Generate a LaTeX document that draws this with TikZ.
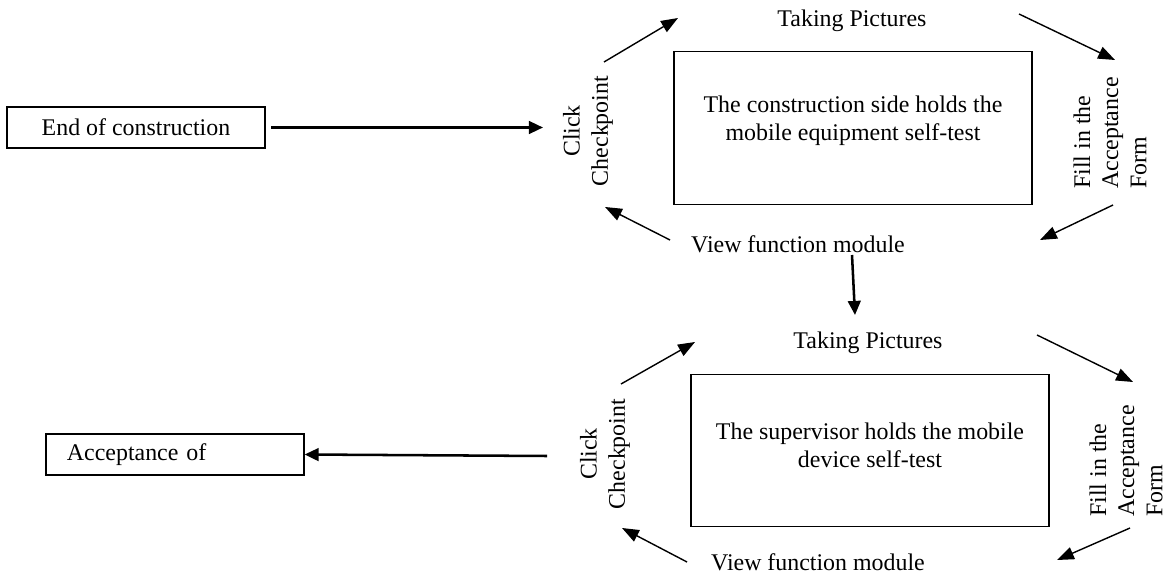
\documentclass[tikz,border=0pt]{standalone}
\usepackage{fontspec}
\setmainfont{Liberation Serif}
\usetikzlibrary{arrows.meta}
\newcommand{\drawstep}{\draw[line width=1pt,-{Triangle[length=12pt,width=9pt]}]}
\newcommand{\drawheavy}{\draw[line width=1.8pt,-{Triangle[length=10pt,width=9pt]}]}
\tikzset{
  txt/.style={inner sep=0pt,font=\fontsize{17}{20}\selectfont},
  flatbox/.style={txt,draw,line width=0.8pt,minimum width=6.45cm,minimum height=1.025cm},
  selfbox/.style={draw,line width=0.8pt,minimum width=8.95cm,minimum height=3.82cm},
  uptxt/.style={txt,rotate=90},
}
\begin{document}
\begin{tikzpicture}[x=0.025cm,y=-0.025cm]
\useasboundingbox[fill=white] (0,0) rectangle (1169,576);
% construction side
\node[flatbox] (endbox) at (136,127.5) {End of construction};
\node[selfbox] (test1) at (853,128) {};
\node[txt,align=center] (testtxt1) at ([yshift=0.18cm]test1.center) {The construction side holds the\\mobile equipment self-test};
\node[txt] (take1) at (852,21) {Taking Pictures};
\node[uptxt,align=left] (fill1) at (1110,133) {Fill in the\\Acceptance\\Form};
\node[txt] (view1) at (798,244) {View function module};
\node[uptxt,align=center] (click1) at (588,131) {Click\\Checkpoint};
% supervisor
\node[flatbox,text width=5.4cm,inner xsep=0.5cm,align=left] (accbox) at (175,454.5) {Acceptance of};
\node[selfbox] (test2) at (870,450.5) {};
\node[txt,align=center] (testtxt2) at ([yshift=0.13cm]test2.center) {The supervisor holds the mobile\\device self-test};
\node[txt] (take2) at (868,342.5) {Taking Pictures};
\node[uptxt,align=left] (fill2) at (1126,461) {Fill in the\\Acceptance\\Form};
\node[txt] (view2) at (818,562) {View function module};
\node[uptxt,align=center] (click2) at (605,454) {Click\\Checkpoint};
% arrow ends
\coordinate (ck1s) at (604,62); \coordinate (ck1e) at (678,18);
\coordinate (tp1s) at (1019,14); \coordinate (tp1e) at (1115,60);
\coordinate (fa1s) at (1113,205); \coordinate (fa1e) at (1040,240);
\coordinate (vf1s) at (670,240); \coordinate (vf1e) at (605,207);
\coordinate (ck2s) at (621,384); \coordinate (ck2e) at (695,342);
\coordinate (tp2s) at (1037,335); \coordinate (tp2e) at (1133,382);
\coordinate (fa2s) at (1130,528); \coordinate (fa2e) at (1057,560);
\coordinate (vf2s) at (687,562); \coordinate (vf2e) at (622,528);
\coordinate (endtip) at (543,127.5); \coordinate (downs) at (852,255); \coordinate (downe) at (855,315);
\coordinate (accs) at (547,456);
\foreach \s/\e in {ck1s/ck1e,tp1s/tp1e,fa1s/fa1e,vf1s/vf1e,ck2s/ck2e,tp2s/tp2e,fa2s/fa2e,vf2s/vf2e}{
  \drawstep (\s) -- (\e);
}
\drawheavy ([xshift=4pt]endbox.east) -- (endtip);
\drawheavy (downs) -- (downe);
\drawheavy (accs) -- (accbox.east);
\end{tikzpicture}
\end{document}
